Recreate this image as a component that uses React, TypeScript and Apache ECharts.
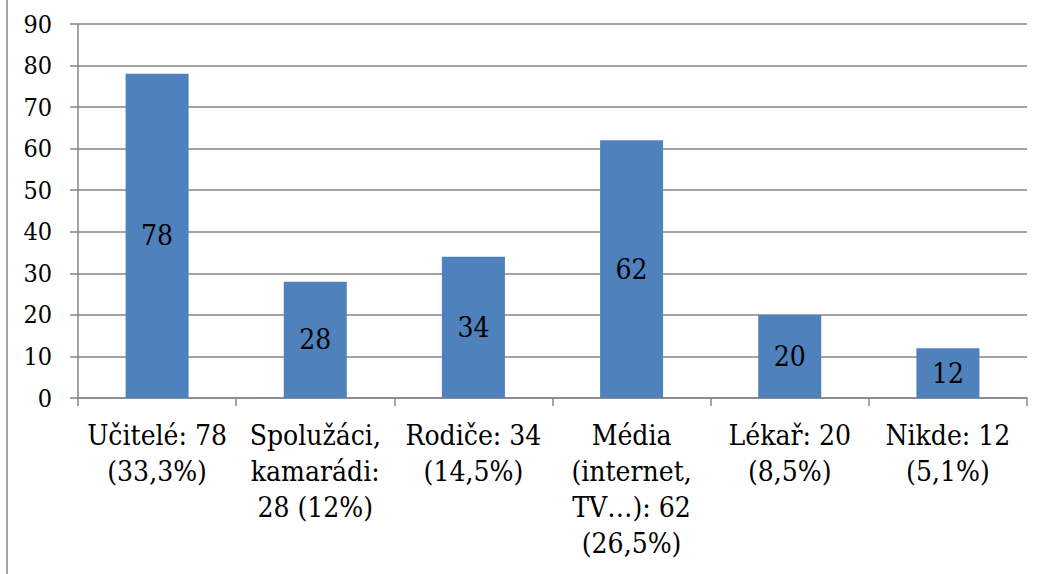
import React, { useEffect, useRef } from "react";
import * as echarts from "echarts";

const categories = [
  "Učitelé: 78\n(33,3%)",
  "Spolužáci,\nkamarádi:\n28 (12%)",
  "Rodiče: 34\n(14,5%)",
  "Média\n(internet,\nTV…): 62\n(26,5%)",
  "Lékař: 20\n(8,5%)",
  "Nikde: 12\n(5,1%)",
];
const values = [78, 28, 34, 62, 20, 12];
const yMin = 0;
const yMax = 90;
const yInterval = 10;

const FONT = "DejaVu Serif Condensed";
const GRAY = "#868686";

export default function App() {
  const ref = useRef<HTMLDivElement>(null);
  useEffect(() => {
    if (!ref.current) return;
    const chart = echarts.init(ref.current, undefined, { renderer: "svg" });
    chart.setOption({
      animation: false,
      backgroundColor: "#ffffff",
      textStyle: { fontFamily: FONT },
      grid: { left: 78, right: 14, top: 24, bottom: 176, containLabel: false },
      xAxis: {
        type: "category",
        data: categories,
        boundaryGap: true,
        axisLine: { show: true, lineStyle: { color: GRAY, width: 1.5 } },
        axisTick: { show: true, alignWithLabel: false, length: 8, lineStyle: { color: GRAY, width: 1.5 } },
        axisLabel: {
          interval: 0,
          color: "#000",
          fontFamily: FONT,
          fontSize: 28,
          lineHeight: 36,
          margin: 19,
          align: "center",
        },
        splitLine: { show: false },
      },
      yAxis: {
        type: "value",
        min: yMin,
        max: yMax,
        interval: yInterval,
        axisLine: { show: true, lineStyle: { color: GRAY, width: 1.5 } },
        axisTick: { show: true, length: 8, lineStyle: { color: GRAY, width: 1.5 } },
        axisLabel: { color: "#000", fontFamily: FONT, fontSize: 25, margin: 26 },
        splitLine: { show: true, lineStyle: { color: GRAY, width: 1.5 } },
      },
      series: [
        {
          type: "bar",
          data: values,
          barWidth: 63,
          itemStyle: { color: "#4F81BD" },
          label: {
            show: true,
            position: "inside",
            color: "#000",
            fontFamily: FONT,
            fontSize: 28,
          },
        },
      ],
      graphic: [
        {
          type: "line",
          shape: { x1: 7, y1: 0, x2: 7, y2: 574 },
          style: { stroke: GRAY, lineWidth: 1.5 },
        },
      ],
    });
    return () => chart.dispose();
  }, []);
  return (
    <div
      ref={ref}
      style={{ position: "fixed", left: 0, top: 0, width: 1041, height: 574, background: "#fff" }}
    />
  );
}
